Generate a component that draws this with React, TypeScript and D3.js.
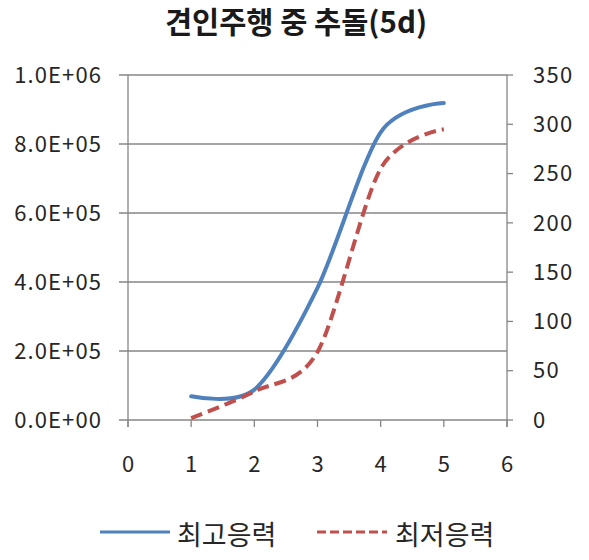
import React from "react";
import * as d3 from "d3";

const xValues = [1, 2, 3, 4, 5];
const maxStress = [69000, 88000, 383000, 834000, 919000];
const minStress = [2, 29, 69, 255, 295];
const leftTicks = [0, 200000, 400000, 600000, 800000, 1000000];
const rightTicks = [0, 50, 100, 150, 200, 250, 300, 350];
const xTicks = [0, 1, 2, 3, 4, 5, 6];
const title = "견인주행 중 추돌(5d)";
const seriesNames = ["최고응력", "최저응력"];

const W = 589, H = 560;
const L = 128, R = 507, T = 75, B = 420;
const FONT = "'Noto Sans CJK KR', 'Noto Sans', sans-serif";

export default function App() {
  const x = d3.scaleLinear().domain([0, 6]).range([L, R]);
  const yL = d3.scaleLinear().domain([0, 1000000]).range([B, T]);
  const yR = d3.scaleLinear().domain([0, 350]).range([B, T]);
  const curve = d3.curveCardinal.tension(0.12);
  const lineMax = d3.line<number>().x((_, i) => x(xValues[i])).y((d) => yL(d)).curve(curve);
  const lineMin = d3.line<number>().x((_, i) => x(xValues[i])).y((d) => yR(d)).curve(curve);
  const fmt = (v: number) => {
    const e = v === 0 ? 0 : Math.floor(Math.log10(v));
    const m = v === 0 ? 0 : v / Math.pow(10, e);
    return `${m.toFixed(1)}E+${String(e).padStart(2, "0")}`;
  };
  const grid = "#868686";
  const tc = "#262626";
  return (
    <svg width={W} height={H} style={{ position: "absolute", left: 0, top: 0, background: "#fff" }}>
      <rect width={W} height={H} fill="#fff" />
      <text x={296} y={33} textAnchor="middle" fontFamily={FONT} fontWeight="bold" fontSize={29.5} fill="#1a1a1a">{title}</text>
      {leftTicks.map((t) => (
        <g key={"l" + t}>
          <line x1={L - 9} x2={R} y1={yL(t)} y2={yL(t)} stroke={grid} strokeWidth={1.3} />
          <text x={102} y={yL(t)} dy="0.35em" textAnchor="end" fontFamily={FONT} fontSize={22} letterSpacing={1.1} fill={tc}>{fmt(t)}</text>
        </g>
      ))}
      {rightTicks.map((t) => (
        <g key={"r" + t}>
          <line x1={R} x2={R + 6} y1={yR(t)} y2={yR(t)} stroke={grid} strokeWidth={1.3} />
          <text x={533} y={yR(t)} dy="0.35em" textAnchor="start" fontFamily={FONT} fontSize={22} letterSpacing={1.3} fill={tc}>{t}</text>
        </g>
      ))}
      {xTicks.map((t) => (
        <g key={"x" + t}>
          <line x1={x(t)} x2={x(t)} y1={B} y2={B + 7} stroke={grid} strokeWidth={1.3} />
          <text x={x(t)} y={464} dy="0.35em" textAnchor="middle" fontFamily={FONT} fontSize={22} fill={tc}>{t}</text>
        </g>
      ))}
      <line x1={L} x2={L} y1={T} y2={B + 7} stroke={grid} strokeWidth={1.3} />
      <line x1={R} x2={R} y1={T} y2={B + 7} stroke={grid} strokeWidth={1.3} />
      <path d={lineMax(maxStress) || ""} fill="none" stroke="#4F81BD" strokeWidth={4} strokeLinecap="round" />
      <path d={lineMin(minStress) || ""} fill="none" stroke="#C0504D" strokeWidth={4} strokeDasharray="12 6" />
      <line x1={100} x2={170} y1={532} y2={532} stroke="#4F81BD" strokeWidth={3} />
      <text x={177} y={536} dy="0.35em" fontFamily={FONT} fontSize={27} fill={tc}>{seriesNames[0]}</text>
      <line x1={317} x2={387} y1={532} y2={532} stroke="#C0504D" strokeWidth={3} strokeDasharray="9 4" />
      <text x={395} y={536} dy="0.35em" fontFamily={FONT} fontSize={27} fill={tc}>{seriesNames[1]}</text>
    </svg>
  );
}
